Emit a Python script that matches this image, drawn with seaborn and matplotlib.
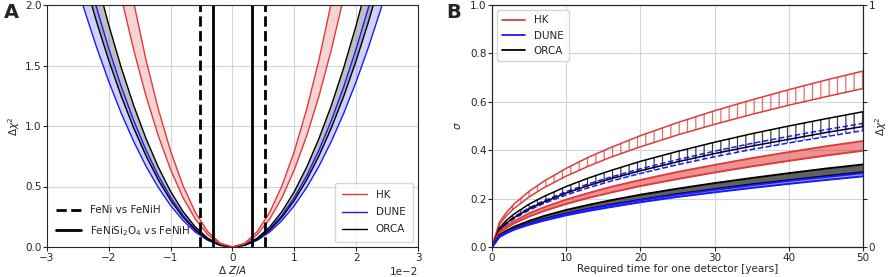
import numpy as np
import matplotlib
matplotlib.use("Agg")
import matplotlib.pyplot as plt
from matplotlib.lines import Line2D
import seaborn as sns

# ---- panel A: delta chi^2 vs delta Z/A (x in units of 1e-2, half curve x>=0) ----
dz = [0, 0.2, 0.4, 0.6, 0.8, 1.0, 1.2, 1.4, 1.6, 1.8, 2.0, 2.2, 2.4, 2.6]
hk_hi = [0, 0.032, 0.127, 0.285, 0.506, 0.791, 1.139, 1.550, 2.025, 2.563, 3.164, 3.828, 4.556, 5.347]
hk_lo = [0, 0.026, 0.102, 0.230, 0.408, 0.638, 0.919, 1.250, 1.633, 2.067, 2.552, 3.088, 3.675, 4.313]
orca_hi = [0, 0.018, 0.073, 0.165, 0.293, 0.458, 0.660, 0.898, 1.172, 1.484, 1.832, 2.217, 2.638, 3.096]
orca_lo = [0, 0.015, 0.062, 0.139, 0.246, 0.385, 0.554, 0.755, 0.986, 1.247, 1.540, 1.863, 2.218, 2.603]
dune_hi = [0, 0.016, 0.066, 0.147, 0.262, 0.410, 0.590, 0.803, 1.048, 1.327, 1.638, 1.982, 2.359, 2.768]
dune_lo = [0, 0.014, 0.055, 0.123, 0.219, 0.342, 0.492, 0.669, 0.874, 1.106, 1.366, 1.653, 1.967, 2.308]
cut_feni = 0.53      # FeNi vs FeNiH
cut_fenisi = 0.32    # FeNiSi2O4 vs FeNiH

# ---- panel B: sigma vs time ----
years = [0, 1, 2, 3, 5, 7, 10, 13, 16, 20, 25, 30, 35, 40, 45, 50]
hk_h_hi = [0, 0.103, 0.145, 0.178, 0.230, 0.272, 0.325, 0.371, 0.411, 0.460, 0.514, 0.563, 0.608, 0.650, 0.690, 0.727]
hk_h_lo = [0, 0.093, 0.131, 0.160, 0.207, 0.245, 0.293, 0.334, 0.371, 0.414, 0.463, 0.507, 0.548, 0.586, 0.621, 0.655]
orca_h_hi = [0, 0.079, 0.112, 0.137, 0.177, 0.209, 0.250, 0.285, 0.316, 0.354, 0.395, 0.433, 0.468, 0.500, 0.530, 0.559]
orca_h_lo = [0, 0.070, 0.100, 0.122, 0.158, 0.186, 0.223, 0.254, 0.282, 0.315, 0.352, 0.386, 0.417, 0.445, 0.473, 0.498]
dune_h_hi = [0, 0.072, 0.102, 0.125, 0.162, 0.191, 0.229, 0.261, 0.289, 0.323, 0.361, 0.396, 0.428, 0.457, 0.485, 0.511]
dune_h_lo = [0, 0.068, 0.096, 0.118, 0.152, 0.180, 0.215, 0.245, 0.272, 0.304, 0.340, 0.373, 0.403, 0.430, 0.456, 0.481]
hk_f_hi = [0, 0.062, 0.088, 0.107, 0.139, 0.164, 0.196, 0.223, 0.248, 0.277, 0.310, 0.339, 0.367, 0.392, 0.416, 0.438]
hk_f_lo = [0, 0.056, 0.080, 0.098, 0.126, 0.149, 0.178, 0.203, 0.225, 0.252, 0.281, 0.308, 0.333, 0.356, 0.378, 0.398]
orca_f_hi = [0, 0.048, 0.068, 0.084, 0.108, 0.128, 0.153, 0.174, 0.193, 0.216, 0.241, 0.264, 0.285, 0.305, 0.324, 0.341]
orca_f_lo = [0, 0.044, 0.062, 0.076, 0.098, 0.116, 0.138, 0.158, 0.175, 0.195, 0.219, 0.239, 0.259, 0.276, 0.293, 0.309]
dune_f_hi = [0, 0.043, 0.061, 0.075, 0.096, 0.114, 0.136, 0.156, 0.173, 0.193, 0.216, 0.236, 0.255, 0.273, 0.289, 0.305]
dune_f_lo = [0, 0.041, 0.058, 0.072, 0.092, 0.109, 0.131, 0.149, 0.165, 0.185, 0.207, 0.226, 0.244, 0.261, 0.277, 0.292]

RED = "#e03a3a"
BLUE = "#1a1aff"
FS = 7.5

sns.set_style("ticks")
plt.rcParams["font.family"] = ["DejaVu Sans"]
plt.rcParams["hatch.linewidth"] = 0.9

fig = plt.figure(figsize=(8.92, 2.77), dpi=100)
axA = fig.add_axes([47 / 892, 30 / 277, 371 / 892, 242 / 277])
axB = fig.add_axes([492 / 892, 30 / 277, 371 / 892, 242 / 277])


def mirror(v, sign=1):
    v = np.asarray(v, dtype=float)
    return np.concatenate([sign * v[:0:-1], v])


x = mirror(dz, -1) * 1e-2

# panel A bands
for hi, lo, col, fill, a in [(dune_hi, dune_lo, BLUE, BLUE, 0.2),
                             (orca_hi, orca_lo, "black", "gray", 0.5),
                             (hk_hi, hk_lo, RED, RED, 0.22)]:
    axA.fill_between(x, mirror(hi), mirror(lo), color=fill, alpha=a, lw=0)
    sns.lineplot(x=x, y=mirror(hi), color=col, lw=1.0, ax=axA)
    sns.lineplot(x=x, y=mirror(lo), color=col, lw=1.0, ax=axA)

for c in (cut_feni, cut_fenisi):
    ls = "--" if c == cut_feni else "-"
    axA.axvline(-c * 1e-2, color="black", ls=ls, lw=2)
    axA.axvline(c * 1e-2, color="black", ls=ls, lw=2)

axA.set_xlim(-0.03, 0.03)
axA.set_ylim(0, 2)
axA.set_yticks([0, 0.5, 1.0, 1.5, 2.0])
axA.ticklabel_format(axis="x", style="sci", scilimits=(0, 0))
axA.grid(True, color="#d5d5d5", lw=0.8)
axA.set_xlabel(r"$\Delta$ $Z/A$", fontsize=FS, labelpad=1)
axA.set_ylabel(r"$\Delta\chi^2$", fontsize=FS, labelpad=2)
axA.tick_params(labelsize=FS, length=3, pad=1)
axA.xaxis.get_offset_text().set_fontsize(FS)

leg1 = axA.legend(handles=[Line2D([], [], color=RED, lw=1),
                           Line2D([], [], color=BLUE, lw=1),
                           Line2D([], [], color="black", lw=1)],
                  labels=["HK", "DUNE", "ORCA"], loc="lower right",
                  fontsize=FS, handlelength=2.4, borderpad=0.7, labelspacing=0.7)
axA.add_artist(leg1)
axA.legend(handles=[Line2D([], [], color="black", ls="--", lw=2),
                    Line2D([], [], color="black", ls="-", lw=2)],
           labels=["FeNi vs FeNiH", r"FeNiSi$_2$O$_4$ vs FeNiH"],
           loc="lower left", bbox_to_anchor=(0.0, 0.0), frameon=False,
           fontsize=FS, handlelength=2.4, labelspacing=0.8)

# panel B hatched bands
for hi, lo, col, ls in [(hk_h_hi, hk_h_lo, RED, "-"),
                        (dune_h_hi, dune_h_lo, BLUE, "--"),
                        (orca_h_hi, orca_h_lo, "black", "-")]:
    axB.fill_between(years, hi, lo, facecolor="none", edgecolor=col,
                     hatch="||", lw=0, alpha=0.75)
    sns.lineplot(x=years, y=hi, color=col, ls=ls, lw=1.1, ax=axB)
    sns.lineplot(x=years, y=lo, color=col, ls=ls, lw=1.1, ax=axB)

# panel B filled bands
for hi, lo, col, fill, a in [(hk_f_hi, hk_f_lo, RED, RED, 0.55),
                             (orca_f_hi, orca_f_lo, "black", "#3a3a3a", 0.8),
                             (dune_f_hi, dune_f_lo, BLUE, BLUE, 0.4)]:
    axB.fill_between(years, hi, lo, color=fill, alpha=a, lw=0)
    sns.lineplot(x=years, y=hi, color=col, lw=1.4, ax=axB)
    sns.lineplot(x=years, y=lo, color=col, lw=1.4, ax=axB)

axB.set_xlim(0, 50)
axB.set_ylim(0, 1)
axB.set_yticks([0, 0.2, 0.4, 0.6, 0.8, 1.0])
axB.grid(True, color="#d5d5d5", lw=0.8)
axB.set_xlabel("Required time for one detector [years]", fontsize=FS, labelpad=1)
axB.set_ylabel(r"$\sigma$", fontsize=FS, labelpad=5)
axB.tick_params(labelsize=FS, length=3, pad=1)
axB.legend(handles=[Line2D([], [], color=RED, lw=1.3),
                    Line2D([], [], color=BLUE, lw=1.3),
                    Line2D([], [], color="black", lw=1.3)],
           labels=["HK", "DUNE", "ORCA"], loc="upper left",
           fontsize=FS, handlelength=2.2, borderpad=0.5, labelspacing=0.5)

ax2 = axB.twinx()
ax2.set_ylim(0, 1)
ax2.set_yticks([0, 0.2, 0.4, 0.6, 0.8, 1.0])
ax2.set_yticklabels(["0", "", "", "", "", "1"])
ax2.tick_params(labelsize=FS, length=3, pad=1)
ax2.set_ylabel(r"$\Delta\chi^2$", fontsize=FS)
ax2.yaxis.set_label_coords(1.028, 0.5)

fig.text(4 / 892, 1 - 3 / 277, "A", fontsize=14, fontweight="bold", va="top")
fig.text(446 / 892, 1 - 3 / 277, "B", fontsize=14, fontweight="bold", va="top")

fig.savefig("out.png", dpi=100)
